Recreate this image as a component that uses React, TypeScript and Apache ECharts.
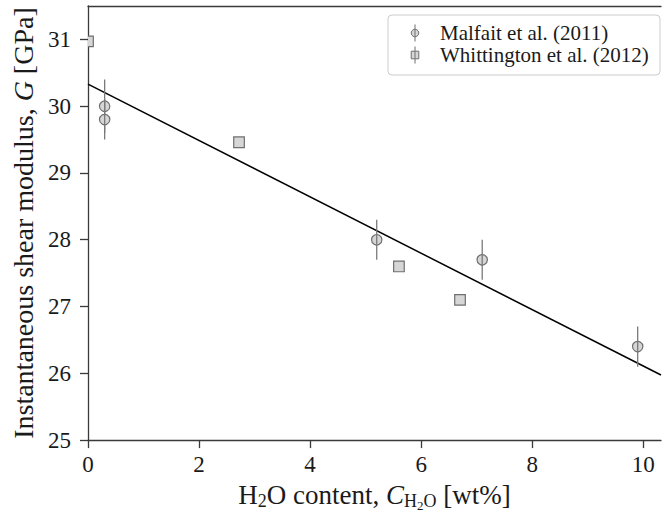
import React, { useEffect, useRef } from "react";
import * as echarts from "echarts";

// Shear modulus vs. water content, two literature datasets plus a linear fit
const malfaitWater = [0.3, 0.3, 5.2, 7.1, 9.9];
const malfaitModulus = [30.0, 29.8, 28.0, 27.7, 26.4];
const malfaitError = [0.4, 0.3, 0.3, 0.3, 0.3];

const whittingtonWater = [0.0, 2.72, 5.6, 6.7];
const whittingtonModulus = [30.97, 29.46, 27.6, 27.1];

const fitIntercept = 30.33;
const fitSlope = -0.422;

const xTicks = [0, 2, 4, 6, 8, 10];
const yTicks = [25, 26, 27, 28, 29, 30, 31];
const xMin = 0;
const xMax = 10.32;
const yMin = 25;
const yMax = 31.5;

const seriesNames = ["Malfait et al. (2011)", "Whittington et al. (2012)"];

const FONT = "Liberation Serif";
const TEXT = "#1a1a1a";
const AXIS = "#3a3a3a";
const MARKER_FILL = "#d6d6d6";
const MARKER_EDGE = "#6f6f6f";
const BAR = "#7a7a7a";

function markerRenderer(shape: "circle" | "square") {
  return (_params: any, api: any) => {
    const x = api.value(0);
    const y = api.value(1);
    const err = api.value(2);
    const c = api.coord([x, y]);
    const children: any[] = [];
    const markerStyle = { fill: MARKER_FILL, stroke: MARKER_EDGE, lineWidth: 1.2 };
    if (shape === "circle") {
      children.push({ type: "circle", shape: { cx: c[0], cy: c[1], r: 5.2 }, style: markerStyle });
    } else {
      const h = 5.3;
      children.push({
        type: "rect",
        shape: { x: c[0] - h, y: c[1] - h, width: 2 * h, height: 2 * h },
        style: markerStyle,
      });
    }
    if (err > 0) {
      const top = api.coord([x, y + err]);
      const bottom = api.coord([x, y - err]);
      children.push({
        type: "line",
        shape: { x1: top[0], y1: top[1], x2: bottom[0], y2: bottom[1] },
        style: { stroke: BAR, lineWidth: 1.3 },
      });
    }
    return { type: "group", children };
  };
}

// Boxed legend: a marker with its error bar, followed by the dataset name
function legendGraphic() {
  const left = 388;
  const top = 15;
  const rowH = 22;
  const markerX = 415;
  const markerStyle = { fill: MARKER_FILL, stroke: MARKER_EDGE, lineWidth: 1 };
  const rows = seriesNames.map((name, i) => {
    const cy = top + 18 + i * rowH;
    const marker =
      i === 0
        ? { type: "circle", shape: { cx: markerX, cy, r: 3.8 }, style: markerStyle }
        : { type: "rect", shape: { x: markerX - 3.8, y: cy - 3.8, width: 7.6, height: 7.6 }, style: markerStyle };
    return [
      { type: "line", shape: { x1: markerX, y1: cy - 8.5, x2: markerX, y2: cy + 8.5 }, style: { stroke: BAR, lineWidth: 1.1 }, z: 1 },
      { ...marker, z: 0 },
      {
        type: "text",
        x: 440,
        y: cy,
        style: { text: name, fontFamily: FONT, fontSize: 21, fill: TEXT, verticalAlign: "middle", align: "left" },
      },
    ];
  });
  return {
    type: "group",
    z: 100,
    children: [
      {
        type: "rect",
        shape: { x: left, y: top, width: 272, height: 60, r: 4 },
        style: { fill: "rgba(255,255,255,0.85)", stroke: "#cccccc", lineWidth: 1 },
      },
      ...rows.flat(),
    ],
  };
}

export default function App() {
  const ref = useRef<HTMLDivElement>(null);

  useEffect(() => {
    document.body.style.margin = "0";
    if (!ref.current) return;
    const chart = echarts.init(ref.current, undefined, { renderer: "svg" });

    const malfaitData = malfaitWater.map((x, i) => [x, malfaitModulus[i], malfaitError[i]]);
    const whittingtonData = whittingtonWater.map((x, i) => [x, whittingtonModulus[i], 0]);
    const fitData = [xMin, xMax].map((x) => [x, fitIntercept + fitSlope * x]);

    const axisLineStyle = { color: AXIS, width: 1.3 };
    const tickLabel = { fontFamily: FONT, fontSize: 23, color: TEXT };

    chart.setOption({
      animation: false,
      backgroundColor: "#ffffff",
      textStyle: { fontFamily: FONT, color: TEXT },
      grid: { left: 88, top: 6, right: 1, bottom: 76, containLabel: false },
      graphic: [legendGraphic()],
      xAxis: [
        {
          type: "value",
          min: xMin,
          max: xMax,
          position: "bottom",
          axisLine: { show: true, onZero: false, lineStyle: axisLineStyle },
          axisTick: { show: true, length: 8, customValues: xTicks, lineStyle: axisLineStyle },
          axisLabel: { customValues: xTicks, margin: 13, ...tickLabel },
          splitLine: { show: false },
          name: "{a|H}{s|2}{a|O content, }{b|C}{s|H}{t|2}{s|O}{a| [wt%]}",
          nameLocation: "middle",
          nameGap: 31,
          nameTextStyle: {
            rich: {
              a: { fontFamily: FONT, fontSize: 27, color: TEXT, lineHeight: 40 },
              b: { fontFamily: FONT, fontSize: 27, color: TEXT, lineHeight: 40, fontStyle: "italic" },
              s: { fontFamily: FONT, fontSize: 18, color: TEXT, padding: [13, 0, 0, 0] },
              t: { fontFamily: FONT, fontSize: 13, color: TEXT, padding: [22, 0, 0, 0] },
            },
          },
        },
        {
          type: "value",
          min: xMin,
          max: xMax,
          position: "top",
          axisLine: { show: true, onZero: false, lineStyle: axisLineStyle },
          axisTick: { show: false },
          axisLabel: { show: false },
          splitLine: { show: false },
        },
      ],
      yAxis: {
        type: "value",
        min: yMin,
        max: yMax,
        axisLine: { show: true, onZero: false, lineStyle: axisLineStyle },
        axisTick: { show: true, length: 8, customValues: yTicks, lineStyle: axisLineStyle },
        axisLabel: { customValues: yTicks, margin: 17, ...tickLabel },
        splitLine: { show: false },
        name: "{a|Instantaneous shear modulus, }{b|G}{a| [GPa]}",
        nameLocation: "middle",
        nameRotate: 90,
        nameGap: 38,
        nameTextStyle: {
          rich: {
            a: { fontFamily: FONT, fontSize: 28, color: TEXT, lineHeight: 32 },
            b: { fontFamily: FONT, fontSize: 28, color: TEXT, lineHeight: 32, fontStyle: "italic" },
          },
        },
      },
      series: [
        {
          name: "fit",
          type: "line",
          data: fitData,
          showSymbol: false,
          silent: true,
          lineStyle: { color: "#000000", width: 1.5 },
          z: 1,
        },
        {
          name: seriesNames[0],
          type: "custom",
          data: malfaitData,
          encode: { x: 0, y: 1 },
          clip: true,
          renderItem: markerRenderer("circle"),
          z: 3,
        },
        {
          name: seriesNames[1],
          type: "custom",
          data: whittingtonData,
          encode: { x: 0, y: 1 },
          clip: true,
          renderItem: markerRenderer("square"),
          z: 3,
        },
      ],
    });

    return () => chart.dispose();
  }, []);

  return (
    <div
      ref={ref}
      style={{ position: "absolute", left: 0, top: 0, width: 662, height: 517 }}
    />
  );
}
